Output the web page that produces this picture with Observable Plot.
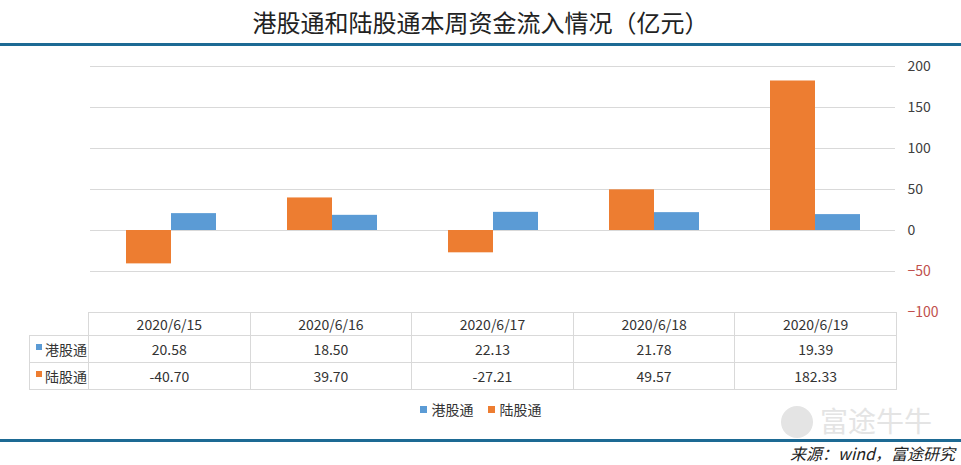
<!DOCTYPE html>
<html>
<head>
<meta charset="utf-8">
<script src="https://cdn.jsdelivr.net/npm/d3@7"></script>
<script src="https://cdn.jsdelivr.net/npm/@observablehq/plot@0.6"></script>
<style>
  html, body { margin: 0; padding: 0; background: #fff; }
  #wrap { position: relative; width: 961px; height: 465px; overflow: hidden; background: #fff;
          font-family: "Noto Sans CJK SC", "Noto Sans", sans-serif; color: #333; }
  #wrap svg { position: absolute; left: 0; top: 0; }
  .abs { position: absolute; }
  .cell { position: absolute; box-sizing: border-box; border: 1px solid #d9d9d9; font-size: 14px;
          color: #333; text-align: center; white-space: nowrap; }
</style>
</head>
<body>
<div id="wrap"></div>
<script>
// ---------- data ----------
const dates = ["2020/6/15", "2020/6/16", "2020/6/17", "2020/6/18", "2020/6/19"];
const series = ["港股通", "陆股通"];
const hkFlow = [20.58, 18.50, 22.13, 21.78, 19.39];      // 港股通
const mainlandFlow = [-40.70, 39.70, -27.21, 49.57, 182.33]; // 陆股通
const seriesColors = ["#5b9bd5", "#ed7d31"];
const yTicks = [-100, -50, 0, 50, 100, 150, 200];
const title = "港股通和陆股通本周资金流入情况（亿元）";
const source = "来源：wind，富途研究";
const watermark = "富途牛牛";

const seriesValues = [hkFlow, mainlandFlow];
const rows = [];
dates.forEach((d, i) => {
  series.forEach((s, j) => rows.push({date: d, series: s, value: seriesValues[j][i]}));
});

// ---------- layout ----------
const W = 961, H = 465;
const plotLeft = 88, plotRight = 896, plotTop = 66, plotBottom = 312;
const wrap = document.getElementById("wrap");

const chart = Plot.plot({
  width: W,
  height: H,
  marginLeft: plotLeft,
  marginRight: W - plotRight,
  marginTop: plotTop,
  marginBottom: H - plotBottom,
  style: {fontFamily: '"Noto Sans CJK SC", "Noto Sans", sans-serif', background: "transparent"},
  fx: {domain: dates, padding: 0, axis: null, label: null},
  x: {domain: ["陆股通", "港股通"], paddingInner: 0, paddingOuter: 0.757, axis: null, label: null},
  y: {domain: [-100, 200], axis: null, label: null},
  color: {domain: series, range: seriesColors},
  marks: [
    Plot.gridY(yTicks, {stroke: "#d9d9d9", strokeOpacity: 1, strokeWidth: 1}),
    Plot.barY(rows, {fx: "date", x: "series", y: "value", fill: "series"}),
    Plot.axisY(yTicks.filter(t => t >= 0), {anchor: "right", tickSize: 0, tickPadding: 12,
      textAnchor: "start", fontSize: 14, fill: "#404040", label: null}),
    Plot.axisY(yTicks.filter(t => t < 0), {anchor: "right", tickSize: 0, tickPadding: 12,
      textAnchor: "start", fontSize: 14, fill: "#c0504d", label: null})
  ]
});
wrap.appendChild(chart);

// ---------- title ----------
const t = document.createElement("div");
t.className = "abs";
Object.assign(t.style, {left: "0px", top: "0px", width: W + "px", height: "44px", lineHeight: "44px",
  textAlign: "center", fontSize: "24px", color: "#222"});
t.textContent = title;
wrap.appendChild(t);

function hline(top, h, color) {
  const l = document.createElement("div");
  l.className = "abs";
  Object.assign(l.style, {left: "0px", top: top + "px", width: W + "px", height: h + "px", background: color});
  wrap.appendChild(l);
}
hline(43, 3, "#1d6a94");
hline(439, 3, "#1d6a94");

// ---------- data table ----------
function cell(x, y, w, h, html, extra) {
  const c = document.createElement("div");
  c.className = "cell";
  Object.assign(c.style, {left: x + "px", top: y + "px", width: (w + 1) + "px", height: (h + 1) + "px",
    lineHeight: (h - 1) + "px"}, extra || {});
  c.innerHTML = html;
  wrap.appendChild(c);
}
const colW = (plotRight - plotLeft) / dates.length;
const headerTop = 312, headerH = 23, rowH = 27, labelLeft = 29;
dates.forEach((d, i) => cell(plotLeft + i * colW, headerTop, colW, headerH, d));
series.forEach((s, j) => {
  const y = headerTop + headerH + j * rowH;
  cell(labelLeft, y, plotLeft - labelLeft, rowH,
    `<span style="display:inline-block;width:6px;height:6px;background:${seriesColors[j]};vertical-align:top;margin-top:8px;margin-right:3px"></span>${s}`,
    {textAlign: "left", paddingLeft: "6px"});
  dates.forEach((d, i) => cell(plotLeft + i * colW, y, colW, rowH, seriesValues[j][i].toFixed(2)));
});

// ---------- legend ----------
const lg = document.createElement("div");
lg.className = "abs";
Object.assign(lg.style, {left: "0px", top: "400px", width: W + "px", height: "18px", display: "flex",
  justifyContent: "center", alignItems: "center", fontSize: "14px", color: "#333"});
lg.innerHTML = series.map((s, j) =>
  `<span style="display:inline-flex;align-items:center;margin:0 7px"><span style="display:inline-block;width:7px;height:7px;background:${seriesColors[j]};margin-right:5px"></span>${s}</span>`
).join("");
wrap.appendChild(lg);

// ---------- watermark ----------
const logo = document.createElement("div");
logo.className = "abs";
Object.assign(logo.style, {left: "781px", top: "406px", width: "32px", height: "32px", borderRadius: "50%",
  background: "#e4e4e4"});
wrap.appendChild(logo);
const wm = document.createElement("div");
wm.className = "abs";
Object.assign(wm.style, {left: "820px", top: "402px", fontSize: "28px", lineHeight: "36px", color: "#e4e4e4"});
wm.textContent = watermark;
wrap.appendChild(wm);

// ---------- source ----------
const src = document.createElement("div");
src.className = "abs";
Object.assign(src.style, {right: "6px", top: "443px", fontSize: "16px", lineHeight: "20px", fontStyle: "italic",
  color: "#222"});
src.textContent = source;
wrap.appendChild(src);
</script>
</body>
</html>
